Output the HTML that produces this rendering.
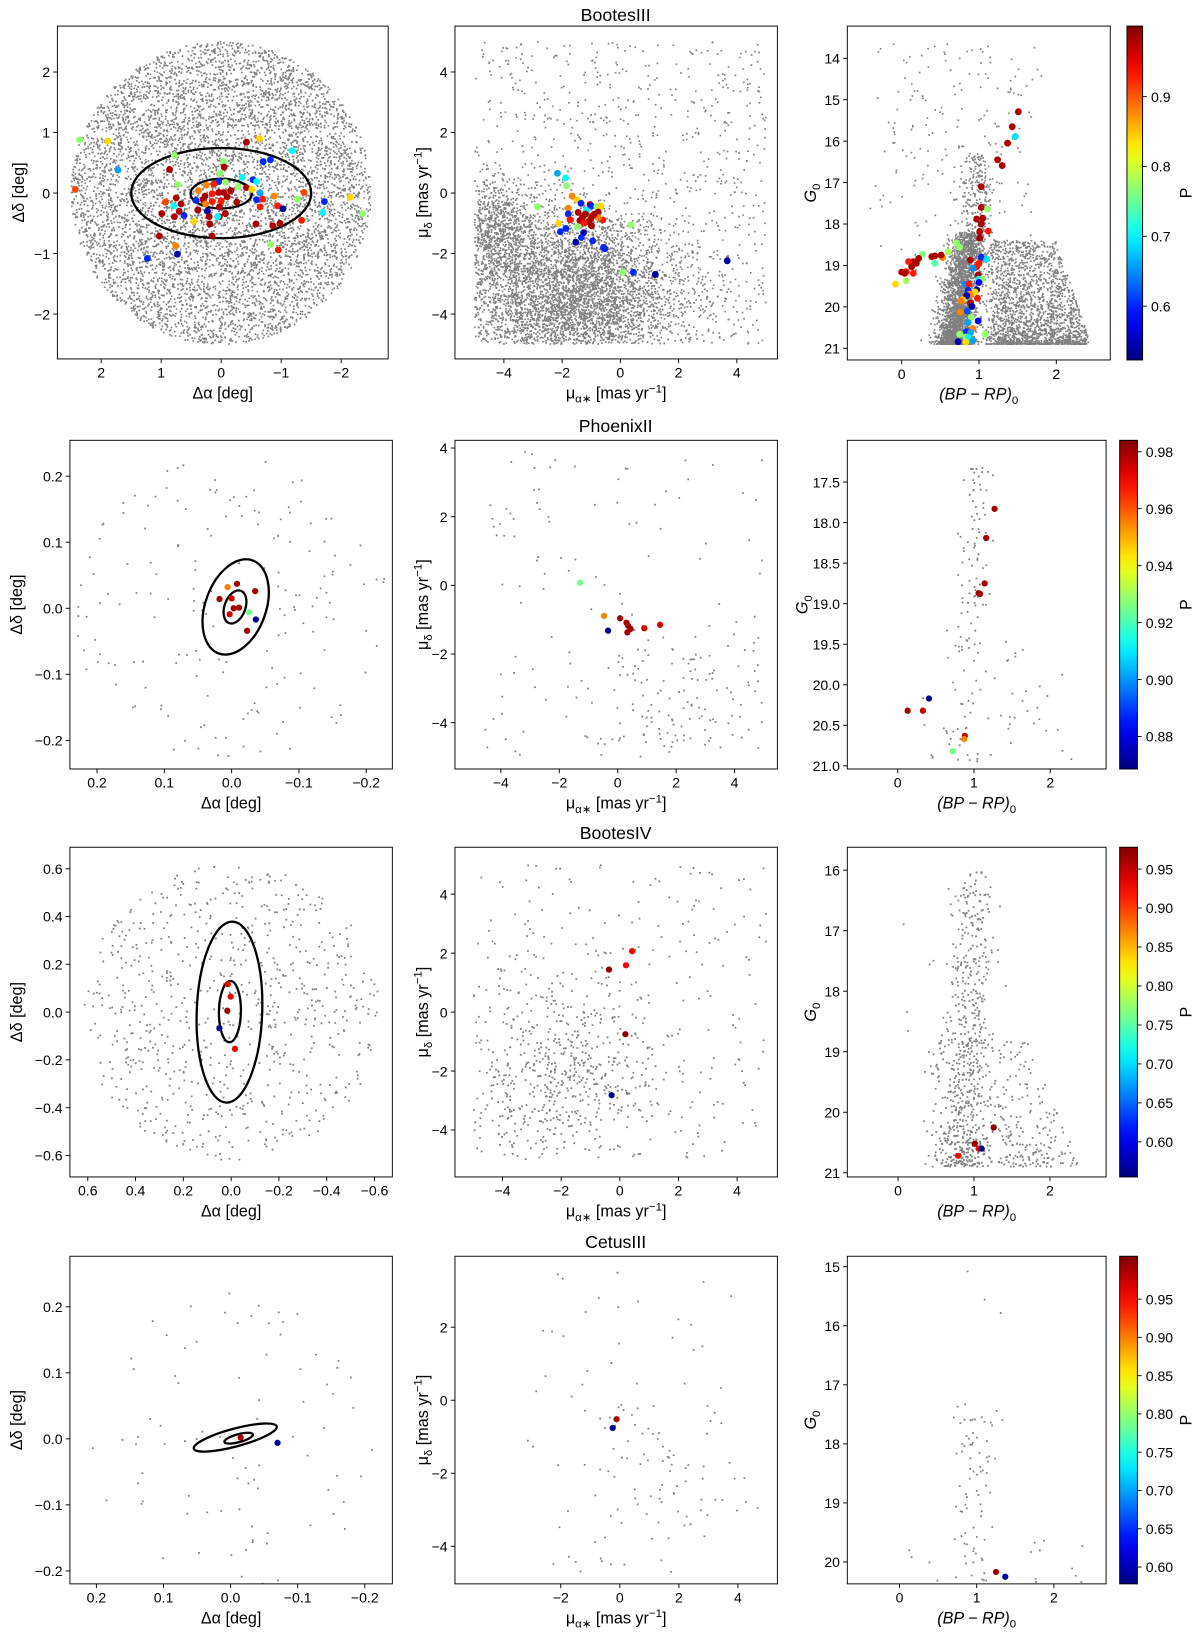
<!DOCTYPE html>
<html>
<head>
<meta charset="utf-8">
<style>
  html,body{margin:0;padding:0;background:#fff;}
  body{width:1200px;height:1635px;overflow:hidden;}
  svg{display:block;font-family:"Liberation Sans","DejaVu Sans",sans-serif;}
</style>
</head>
<body>
<svg id="fig" width="1200" height="1635" viewBox="0 0 1150 1567" preserveAspectRatio="none">
  <text x="590" y="20" font-size="17" text-anchor="middle">BootesIII</text>
  <text x="590" y="414" font-size="17" text-anchor="middle">PhoenixII</text>
  <text x="590" y="804" font-size="17" text-anchor="middle">BootesIV</text>
  <text x="590" y="1196" font-size="17" text-anchor="middle">CetusIII</text>
</svg>
<script>
// ---------------- member data (x, y, P) ----------------
const bootes3Sky = [[2.36,0.88,.77],[1.89,0.86,.84],[-0.42,0.84,.98],[-0.64,0.90,.84],[-1.18,0.70,.70],[0.78,0.62,.77],[-0.70,0.52,.60],[-0.82,0.55,.60],[1.72,0.38,.66],[0.86,0.39,.98],[-0.04,0.52,.77],[-0.05,0.43,.98],[0.02,0.33,.77],[2.43,0.06,.91],[0.72,0.14,.77],[-0.35,0.26,.70],[0.04,0.19,.60],[0.38,0.04,.88],[0.25,0.13,.88],[0.12,0.15,.93],[-0.07,0.18,.77],[-0.28,0.11,.77],[-0.42,0.09,.98],[-0.53,0.22,.60],[-0.59,0.19,.70],[-0.51,0.06,.84],[-0.65,0.0,.66],[-0.59,-0.11,.60],[-0.69,-0.10,.93],[-0.88,-0.05,.88],[-1.38,0.01,.91],[-1.27,-0.10,.77],[-1.72,-0.14,.60],[-2.15,-0.07,.84],[-2.36,-0.34,.77],[-1.69,-0.32,.70],[-0.94,-0.21,.93],[-1.03,-0.26,.54],[-0.65,-0.23,.93],[-1.34,-0.45,.93],[-0.98,-0.50,.98],[-0.86,-0.54,.98],[-0.58,-0.51,.98],[-0.82,-0.85,.77],[-0.95,-0.94,.93],[0.15,-0.71,.98],[0.19,-0.51,.98],[0.03,-0.39,.98],[-0.07,-0.34,.98],[-0.26,-0.15,.98],[-0.16,0.04,.98],[-0.04,0.01,.98],[-0.10,-0.06,.98],[0.04,0.01,.98],[0.15,-0.01,.93],[0.0,-0.13,.93],[0.03,-0.23,.98],[0.15,-0.14,.93],[0.27,-0.05,.98],[0.30,-0.11,.98],[0.26,-0.18,.88],[0.42,-0.12,.60],[0.39,-0.28,.98],[0.23,-0.30,.54],[0.20,-0.39,.98],[0.06,-0.39,.70],[0.46,-0.47,.84],[0.62,-0.37,.60],[0.70,-0.30,.98],[0.78,-0.39,.98],[0.99,-0.34,.98],[0.79,-0.21,.70],[0.93,-0.15,.91],[0.75,-0.08,.98],[0.67,-0.18,.98],[1.03,-0.71,.98],[0.76,-0.87,.88],[0.73,-1.01,.54],[1.23,-1.08,.60]];
const bootes3PM = [[-2.16,0.65,.66],[-1.88,0.50,.70],[-1.85,0.24,.77],[-2.85,-0.45,.77],[-1.66,-0.10,.88],[-1.48,-0.23,.84],[-1.35,-0.34,.60],[-1.79,-0.50,.88],[-1.79,-0.69,.60],[-1.73,-0.88,.93],[-1.45,-0.64,.98],[-1.39,-0.91,.98],[-1.02,-0.86,.98],[-0.99,-1.08,.98],[-1.16,-0.56,.70],[-1.04,-0.38,.98],[-0.99,-0.43,.60],[-0.81,-0.45,.77],[-0.67,-0.43,.84],[-0.76,-0.63,.98],[-0.60,-0.89,.93],[-0.76,-0.81,.88],[-1.23,-0.81,.84],[-1.47,-1.11,.77],[-2.12,-1.0,.84],[-2.06,-1.28,.60],[-1.87,-1.17,.60],[-1.26,-1.31,.54],[-1.34,-1.47,.60],[-1.53,-1.63,.54],[-0.95,-1.58,.60],[-0.58,-1.80,.60],[-0.53,-1.84,.60],[0.36,-1.05,.77],[0.09,-2.62,.77],[0.45,-2.62,.60],[1.20,-2.69,.54],[3.67,-2.24,.54],[-1.20,-0.70,.98],[-1.10,-0.95,.98],[-0.90,-0.70,.98],[-1.30,-0.80,.98],[-1.25,-1.0,.93],[-0.95,-0.75,.98]];
const bootes3CMD = [[1.51,15.29,.98],[1.43,15.65,.98],[1.47,15.89,.69],[1.37,16.05,.98],[1.24,16.45,.98],[1.30,16.59,.98],[1.03,17.10,.98],[1.03,17.60,.98],[1.11,17.64,.77],[0.97,17.88,.98],[1.05,17.86,.98],[1.03,18.0,.98],[1.01,18.18,.98],[1.01,18.34,.98],[1.12,18.17,.93],[0.71,18.46,.77],[0.75,18.56,.77],[0.60,18.67,.78],[0.53,18.81,.88],[0.51,18.75,.98],[0.43,18.77,.98],[0.39,18.79,.98],[0.27,18.73,.76],[0.43,18.95,.74],[0.22,18.83,.98],[0.15,18.91,.98],[0.09,18.91,.93],[0.13,19.03,.98],[0.19,18.95,.98],[0.06,19.15,.93],[0.0,19.16,.98],[0.04,19.19,.98],[0.15,19.19,.93],[0.06,19.37,.78],[-0.08,19.45,.84],[0.89,18.87,.98],[1.0,18.95,.93],[1.03,18.80,.60],[1.10,18.85,.69],[0.97,19.03,.93],[0.92,19.07,.65],[0.99,19.23,.98],[1.0,19.33,.70],[1.05,19.33,.77],[1.0,19.41,.58],[0.82,19.45,.65],[0.87,19.45,.93],[0.86,19.60,.60],[0.97,19.59,.54],[0.95,19.64,.84],[0.88,19.69,.88],[0.84,19.73,.54],[0.79,19.83,.84],[0.98,19.79,.93],[0.89,19.91,.98],[0.91,19.99,.54],[0.77,19.86,.88],[0.85,20.10,.62],[0.76,20.13,.88],[0.90,20.25,.77],[0.99,20.34,.58],[0.86,20.38,.66],[0.92,20.52,.88],[0.84,20.60,.60],[0.89,20.62,.66],[0.75,20.66,.77],[1.08,20.66,.77],[0.83,20.73,.77],[0.86,20.74,.70],[0.92,20.81,.66],[0.73,20.84,.54],[0.83,20.85,.84]];
const phoenix2Sky = [[0.006,0.032,.955],[-0.008,0.037,.98],[0.018,0.014,.98],[0.0,0.015,.975],[-0.035,0.026,.98],[-0.003,0.0,.98],[-0.011,0.001,.98],[0.003,-0.009,.975],[-0.026,-0.006,.925],[-0.036,-0.017,.87],[-0.023,-0.034,.98]];
const phoenix2PM = [[-1.29,0.08,.925],[-0.47,-0.89,.955],[-0.33,-1.32,.87],[0.08,-0.96,.98],[0.30,-1.09,.98],[0.36,-1.18,.98],[0.44,-1.27,.98],[0.33,-1.37,.98],[0.91,-1.25,.975],[1.45,-1.15,.975]];
const phoenix2CMD = [[1.27,17.83,.98],[1.16,18.19,.98],[1.14,18.75,.98],[1.06,18.87,.98],[1.08,18.88,.98],[0.41,20.17,.87],[0.13,20.32,.98],[0.33,20.32,.975],[0.88,20.63,.975],[0.87,20.67,.955],[0.72,20.82,.925]];
const bootes4Sky = [[0.014,0.117,.93],[0.002,0.065,.93],[0.016,0.006,.97],[0.049,-0.067,.56],[-0.016,-0.154,.93]];
const bootes4PM = [[0.42,2.07,.93],[0.21,1.59,.93],[-0.37,1.44,.97],[0.19,-0.75,.97],[-0.28,-2.82,.56]];
const bootes4CMD = [[1.26,20.25,.97],[1.01,20.52,.97],[1.06,20.60,.93],[1.10,20.60,.56],[0.79,20.72,.93]];
const cetus3Sky = [[-0.015,0.002,.99],[-0.070,-0.006,.59]];
const cetus3PM = [[-0.11,-0.52,.99],[-0.24,-0.76,.59]];
const cetus3CMD = [[1.25,20.17,.99],[1.37,20.25,.59]];

// ellipses: [cx, cy, semi-axis x, semi-axis y, rotation deg]
const bootes3Ellipses = [[0,0,1.50,0.745,0],[0,-0.01,0.51,0.245,0]];
const phoenix2Ellipses = [[-0.006,0.002,0.045,0.075,20],[-0.005,0.002,0.0155,0.026,20]];
const bootes4Ellipses = [[0.007,0,0.137,0.379,2],[0.005,0.002,0.046,0.128,1]];
const cetus3Ellipses = [[-0.007,0.002,0.064,0.0135,-15],[-0.012,0.001,0.022,0.006,-15]];

// tick labels
const skyTicksB3 = [-2,-1,0,1,2];
const pmTicks = [-4,-2,0,2,4];
const cmdXTicks = [0,1,2];
const cmdYTicksB3 = [14,15,16,17,18,19,20,21];
const skyTicksP2 = [-0.2,-0.1,0,0.1,0.2];
const cmdYTicksP2 = [17.5,18,18.5,19,19.5,20,20.5,21];
const skyTicksB4 = [-0.6,-0.4,-0.2,0,0.2,0.4,0.6];
const cmdYTicksB4 = [16,17,18,19,20,21];
const pmXTicksC3 = [-2,0,2,4];
const pmYTicksC3 = [-4,-2,0,2];
const cmdYTicksC3 = [15,16,17,18,19,20];
const cbarTicksB3 = [0.6,0.7,0.8,0.9];
const cbarTicksP2 = [0.88,0.90,0.92,0.94,0.96,0.98];
const cbarTicksLate = [0.60,0.65,0.70,0.75,0.80,0.85,0.90,0.95];

// ---------------- helpers ----------------
const NS = 'http://www.w3.org/2000/svg';
const svg = document.getElementById('fig');
function mk(tag, attrs, parent){
  const e = document.createElementNS(NS, tag);
  for (const k in attrs) e.setAttribute(k, attrs[k]);
  (parent || svg).appendChild(e);
  return e;
}
function jet(t){
  t = Math.max(0, Math.min(1, t));
  const c = v => Math.round(255 * Math.max(0, Math.min(1, v)));
  return `rgb(${c(1.5-Math.abs(4*t-3))},${c(1.5-Math.abs(4*t-2))},${c(1.5-Math.abs(4*t-1))})`;
}
function fmt(v, d){
  const s = Math.abs(v).toFixed(d);
  return (v < -1e-9 ? '\u2212' : '') + s;
}
// seeded generator for field-star texture
let seed = 12345;
function rnd(){
  seed |= 0; seed = seed + 0x6D2B79F5 | 0;
  let t = Math.imul(seed ^ seed >>> 15, 1 | seed);
  t = t + Math.imul(t ^ t >>> 7, 61 | t) ^ t;
  return ((t ^ t >>> 14) >>> 0) / 4294967296;
}
function gauss(){ return Math.sqrt(-2*Math.log(rnd()+1e-12))*Math.cos(2*Math.PI*rnd()); }
function bgDisk(n, r){
  const out = [];
  for (let i=0;i<n;i++){ const rr = r*Math.sqrt(rnd()), a = 2*Math.PI*rnd(); out.push([rr*Math.cos(a), rr*Math.sin(a)]); }
  return out;
}
function bgPM(n, comps, box){
  const out = [];
  while (out.length < n){
    const u = rnd(); let acc = 0, c = comps[comps.length-1];
    for (const k of comps){ acc += k[0]; if (u < acc){ c = k; break; } }
    let x, y;
    if (c[1] === 'u'){ x = box[0]+(box[1]-box[0])*rnd(); y = box[2]+(box[3]-box[2])*rnd(); }
    else { x = c[1]+c[3]*gauss(); y = c[2]+c[4]*gauss(); }
    if (x>=box[0] && x<=box[1] && y>=box[2] && y<=box[3]) out.push([x,y]);
  }
  return out;
}

function panel(cfg){
  const [x0,x1,y0,y1] = cfg.box;
  const sx = v => x0 + (v-cfg.dx[0])/(cfg.dx[1]-cfg.dx[0])*(x1-x0);
  const sy = v => y0 + (v-cfg.dy[0])/(cfg.dy[1]-cfg.dy[0])*(y1-y0);
  const g = mk('g', {});
  
  
  const cid = 'clip-' + cfg.name;
  const cp = mk('clipPath', {id: cid}, g);
  mk('rect', {x:x0, y:y0, width:x1-x0, height:y1-y0}, cp);
  const plot = mk('g', {'clip-path':`url(#${cid})`}, g);
  let d = '';
  const s = cfg.dot;
  for (const p of cfg.bg){ d += `M${(sx(p[0])-s/2).toFixed(1)} ${(sy(p[1])-s/2).toFixed(1)}h${s}v${s}h-${s}z`; }
  const bgp = mk('path', {d, fill:'#808080'}, plot);
  
  
  for (const e of (cfg.ell || [])){
    const cx = sx(e[0]), cy = sy(e[1]);
    const rx = Math.abs(sx(e[0]+e[2]) - cx), ry = Math.abs(sy(e[1]+e[3]) - cy);
    const el = mk('ellipse', {cx, cy, rx, ry, fill:'none', stroke:'#000', 'stroke-width':2.2, transform:`rotate(${e[4]} ${cx} ${cy})`}, plot);
    
    
  }
  for (const m of cfg.mem){
    const c = mk('circle', {cx:sx(m[0]), cy:sy(m[1]), r:cfg.mr, fill:jet((m[2]-cfg.cb[0])/(cfg.cb[1]-cfg.cb[0]))}, plot);
    
    
  }
  const fr = mk('rect', {x:x0, y:y0, width:x1-x0, height:y1-y0, fill:'none', stroke:'#000', 'stroke-width':0.9}, g);
  
  
  for (const t of cfg.xt){
    const X = sx(t);
    mk('line', {x1:X, x2:X, y1:y1, y2:y1+4, stroke:'#000', 'stroke-width':0.9}, g);
    const tl = mk('text', {x:X, y:y1+18, 'font-size':13.5, 'text-anchor':'middle'}, g);
    tl.textContent = fmt(t, cfg.xd);
    
    
  }
  for (const t of cfg.yt){
    const Y = sy(t);
    mk('line', {x1:x0-4, x2:x0, y1:Y, y2:Y, stroke:'#000', 'stroke-width':0.9}, g);
    const tl = mk('text', {x:x0-7, y:Y+5, 'font-size':13.5, 'text-anchor':'end'}, g);
    tl.textContent = fmt(t, cfg.yd);
    
    
  }
  const xl = mk('text', {x:(x0+x1)/2, y:y1+38, 'font-size':15.5, 'text-anchor':'middle'}, g);
  xl.innerHTML = cfg.xl;
  
  
  const yx = x0 - cfg.yoff, yy = (y0+y1)/2;
  const yl = mk('text', {x:yx, y:yy, 'font-size':15.5, 'text-anchor':'middle', transform:`rotate(-90 ${yx} ${yy})`}, g);
  yl.innerHTML = cfg.yl;
  
  
}

function colorbar(cfg){
  const [x0,x1,y0,y1] = cfg.box;
  const g = mk('g', {});
  
  
  const gid = 'grad-' + cfg.name;
  const lg = mk('linearGradient', {id:gid, x1:0, y1:1, x2:0, y2:0}, g);
  for (let i=0;i<=20;i++){ mk('stop', {offset:(i/20), 'stop-color':jet(i/20)}, lg); }
  mk('rect', {x:x0, y:y0, width:x1-x0, height:y1-y0, fill:`url(#${gid})`, stroke:'#000', 'stroke-width':0.9}, g);
  const sy = v => y1 - (v-cfg.r[0])/(cfg.r[1]-cfg.r[0])*(y1-y0);
  for (const t of cfg.ticks){
    const Y = sy(t);
    mk('line', {x1:x1, x2:x1+4, y1:Y, y2:Y, stroke:'#000', 'stroke-width':0.9}, g);
    const tl = mk('text', {x:x1+8, y:Y+5, 'font-size':13.5}, g);
    tl.textContent = t.toFixed(cfg.d);
    
    
  }
  const lx = 1142, ly = (y0+y1)/2;
  const pl = mk('text', {x:lx, y:ly, 'font-size':15.5, 'text-anchor':'middle', transform:`rotate(-90 ${lx} ${ly})`}, g);
  pl.textContent = 'P';
  
  
}

function cmdBg(specs){
  const out = [];
  for (const s of specs){
    for (let i=0;i<s.n;i++){
      let c, G;
      if (s.kind === 'plume'){ const u = Math.pow(rnd(), s.pow); G = s.gmax - (s.gmax-s.gmin)*u; c = s.c + s.sc*gauss() + (s.gmax-G)*s.tilt; }
      else {
        const u = Math.pow(rnd(), s.pow); G = s.gmax - (s.gmax-s.gmin)*u;
        c = s.c0 + (s.c1-s.c0)*rnd() + 0.08*gauss();
        if (s.taper){ const lim = s.c1 - (s.c1-s.c0)*0.35*((s.gmax-G)/(s.gmax-s.gmin)); if (c > lim) c = s.c0 + (lim-s.c0)*rnd(); }
      }
      out.push([c, G]);
    }
  }
  return out;
}

const XL_SKY = '\u0394\u03b1 [deg]';
const YL_SKY = '\u0394\u03b4 [deg]';
const XL_PM = '\u03bc<tspan font-size="11" dy="4">\u03b1\u2217</tspan><tspan dy="-4"> [mas yr</tspan><tspan font-size="11" dy="-6">\u22121</tspan><tspan dy="6">]</tspan>';
const YL_PM = '\u03bc<tspan font-size="11" dy="4">\u03b4</tspan><tspan dy="-4"> [mas yr</tspan><tspan font-size="11" dy="-6">\u22121</tspan><tspan dy="6">]</tspan>';
const XL_CMD = '<tspan font-style="italic">(BP \u2212 RP)</tspan><tspan font-size="11" dy="4">0</tspan>';
const YL_CMD = '<tspan font-style="italic">G</tspan><tspan font-size="11" dy="4">0</tspan>';

const cbB3 = [0.523,1.001], cbP2 = [0.8686,0.984], cbB4 = [0.555,0.978], cbC3 = [0.578,1.006];

// Row 1 BootesIII
panel({name:'bootes3-sky-panel', box:[55,372,25,344], dx:[2.730,-2.783], dy:[2.759,-2.741], xt:skyTicksB3, yt:skyTicksB3, xd:0, yd:0,
  bg:bgDisk(6500,2.5), dot:1.6, ell:bootes3Ellipses, mem:bootes3Sky, mr:3.3, cb:cbB3, xl:XL_SKY, yl:YL_SKY, yoff:32});
panel({name:'bootes3-pm-panel', box:[436,745,25,344], dx:[-5.681,5.394], dy:[5.517,-5.483], xt:pmTicks, yt:pmTicks, xd:0, yd:0,
  bg:bgPM(5600, [[0.14,'u'],[0.56,-1.6,-3.6,2.0,1.1],[0.12,-1.0,-2.0,1.4,0.9],[0.18,-4.3,-1.4,0.8,1.0]], [-5,5,-5,5]), dot:1.6, mem:bootes3PM, mr:3.3, cb:cbB3, xl:XL_PM, yl:YL_PM, yoff:26});
panel({name:'bootes3-cmd-panel', box:[812,1064,25,345], dx:[-0.703,2.698], dy:[13.222,21.282], xt:cmdXTicks, yt:cmdYTicksB3, xd:0, yd:0,
  bg:cmdBg([{kind:'plume',n:2800,gmin:18.2,gmax:20.9,pow:1.8,c:0.68,sc:0.11,tilt:0.07},
            {kind:'plume',n:300,gmin:16.3,gmax:19.0,pow:0.9,c:0.92,sc:0.12,tilt:0.03},
            {kind:'flat',n:2000,c0:1.15,c1:2.45,gmin:18.4,gmax:20.9,pow:2.0,taper:true},
            {kind:'flat',n:200,c0:-0.3,c1:1.8,gmin:13.6,gmax:19.5,pow:0.8}]),
  dot:1.6, mem:bootes3CMD, mr:3.3, cb:cbB3, xl:XL_CMD, yl:YL_CMD, yoff:30});
colorbar({name:'bootes3-colorbar', box:[1080,1095,25,345], r:cbB3, ticks:cbarTicksB3, d:1});

// Row 2 PhoenixII
panel({name:'phoenix2-sky-panel', box:[67,376,422,737], dx:[0.2403,-0.2388], dy:[0.2543,-0.2433], xt:skyTicksP2, yt:skyTicksP2, xd:1, yd:1,
  bg:bgDisk(170,0.235), dot:1.7, ell:phoenix2Ellipses, mem:phoenix2Sky, mr:3.0, cb:cbP2, xl:XL_SKY, yl:YL_SKY, yoff:46});
panel({name:'phoenix2-pm-panel', box:[436,745,422,737], dx:[-5.571,5.464], dy:[4.225,-5.350], xt:pmTicks, yt:pmTicks, xd:0, yd:0,
  bg:bgPM(230, [[0.5,'u'],[0.5,2.0,-3.3,1.8,1.1]], [-4.6,5,-5,4]), dot:1.7, mem:phoenix2PM, mr:3.0, cb:cbP2, xl:XL_PM, yl:YL_PM, yoff:26});
panel({name:'phoenix2-cmd-panel', box:[812,1060,422,737], dx:[-0.661,2.732], dy:[16.985,21.039], xt:cmdXTicks, yt:cmdYTicksP2, xd:0, yd:1,
  bg:cmdBg([{kind:'plume',n:110,gmin:17.3,gmax:20.95,pow:0.8,c:0.82,sc:0.13,tilt:0.07},
            {kind:'flat',n:45,c0:0.3,c1:2.3,gmin:19.3,gmax:20.95,pow:1.0}]),
  dot:1.7, mem:phoenix2CMD, mr:3.0, cb:cbP2, xl:XL_CMD, yl:YL_CMD, yoff:38});
colorbar({name:'phoenix2-colorbar', box:[1073,1090,422,737], r:cbP2, ticks:cbarTicksP2, d:2});

// Row 3 BootesIV
panel({name:'bootes4-sky-panel', box:[67,376,812,1128], dx:[0.6747,-0.6747], dy:[0.690,-0.690], xt:skyTicksB4, yt:skyTicksB4, xd:1, yd:1,
  bg:bgDisk(760,0.62), dot:1.7, ell:bootes4Ellipses, mem:bootes4Sky, mr:3.0, cb:cbB4, xl:XL_SKY, yl:YL_SKY, yoff:46});
panel({name:'bootes4-pm-panel', box:[436,745,812,1128], dx:[-5.623,5.374], dy:[5.593,-5.593], xt:pmTicks, yt:pmTicks, xd:0, yd:0,
  bg:bgPM(800, [[0.35,'u'],[0.65,-2.0,-2.2,1.8,1.6]], [-5,5,-5,5]), dot:1.7, mem:bootes4PM, mr:3.0, cb:cbB4, xl:XL_PM, yl:YL_PM, yoff:26});
panel({name:'bootes4-cmd-panel', box:[812,1060,812,1128], dx:[-0.668,2.739], dy:[15.621,21.069], xt:cmdXTicks, yt:cmdYTicksB4, xd:0, yd:0,
  bg:cmdBg([{kind:'plume',n:520,gmin:16.0,gmax:20.9,pow:1.4,c:0.82,sc:0.15,tilt:0.04},
            {kind:'flat',n:400,c0:0.4,c1:2.4,gmin:18.8,gmax:20.9,pow:1.5,taper:true},
            {kind:'flat',n:12,c0:-0.1,c1:1.6,gmin:16,gmax:19,pow:1.0}]),
  dot:1.7, mem:bootes4CMD, mr:3.0, cb:cbB4, xl:XL_CMD, yl:YL_CMD, yoff:30});
colorbar({name:'bootes4-colorbar', box:[1073,1090,812,1128], r:cbB4, ticks:cbarTicksLate, d:2});

// Row 4 CetusIII
panel({name:'cetus3-sky-panel', box:[67,376,1204,1518], dx:[0.2395,-0.2411], dy:[0.2765,-0.2196], xt:skyTicksP2, yt:skyTicksP2, xd:1, yd:1,
  bg:bgDisk(85,0.235), dot:1.7, ell:cetus3Ellipses, mem:cetus3Sky, mr:3.0, cb:cbC3, xl:XL_SKY, yl:YL_SKY, yoff:46});
panel({name:'cetus3-pm-panel', box:[436,745,1204,1518], dx:[-5.583,5.336], dy:[3.943,-5.029], xt:pmXTicksC3, yt:pmYTicksC3, xd:0, yd:0,
  bg:bgPM(125, [[0.4,'u'],[0.6,0.8,-2.0,1.3,1.5]], [-3.5,4.7,-4.7,3.6]), dot:1.7, mem:cetus3PM, mr:3.0, cb:cbC3, xl:XL_PM, yl:YL_PM, yoff:26});
panel({name:'cetus3-cmd-panel', box:[812,1060,1204,1518], dx:[-0.676,2.676], dy:[14.823,20.371], xt:cmdXTicks, yt:cmdYTicksC3, xd:0, yd:0,
  bg:cmdBg([{kind:'plume',n:85,gmin:17.3,gmax:20.75,pow:0.7,c:0.95,sc:0.14,tilt:0.02},
            {kind:'flat',n:20,c0:0.0,c1:2.5,gmin:19.6,gmax:20.7,pow:1.0},
            {kind:'flat',n:3,c0:0.9,c1:1.4,gmin:15,gmax:16,pow:1.0}]),
  dot:1.7, mem:cetus3CMD, mr:3.0, cb:cbC3, xl:XL_CMD, yl:YL_CMD, yoff:30});
colorbar({name:'cetus3-colorbar', box:[1073,1090,1204,1518], r:cbC3, ticks:cbarTicksLate, d:2});
</script>
</body>
</html>
